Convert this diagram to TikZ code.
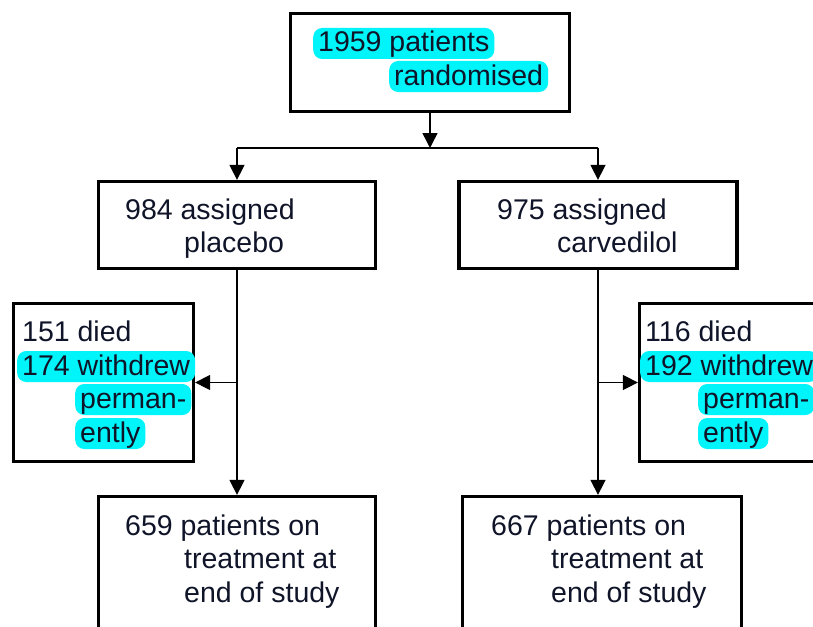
\documentclass[tikz,border=0pt]{standalone}
\usepackage{fontspec}
\setmainfont{Liberation Sans}
\usetikzlibrary{arrows.meta}
\definecolor{hlc}{RGB}{0,245,250}
\definecolor{ink}{RGB}{15,20,40}
\tikzset{
  box/.style={draw=black, line width=3.3pt, inner sep=0pt, fill=white},
  txt/.style={anchor=base west, inner xsep=5pt, inner ysep=2pt, text height=22pt, text depth=5pt,
    font=\fontsize{28.5}{33}\selectfont, text=ink, rounded corners=9pt},
  hl/.style={txt, fill=hlc},
  conn/.style={line width=1.5pt, draw=black},
  arr/.style={conn, -{Triangle[length=15pt,width=15pt]}},
}
\begin{document}
\begin{tikzpicture}[x=1pt,y=-1pt]
\useasboundingbox (0,0) rectangle (813,626);
\clip (0,0) rectangle (813,626);
\fill[white] (0,0) rectangle (813,626);
% boxes
\node[box, minimum width=279pt, minimum height=98pt] (top) at (430,62.5) {};
\node[box, minimum width=277pt, minimum height=87pt] (pl) at (237,225) {};
\node[box, minimum width=278pt, minimum height=87pt] (cv) at (598,225) {};
\node[box, minimum width=180pt, minimum height=158pt] (sideL) at (103.5,382.5) {};
\node[box, minimum width=182pt, minimum height=158pt] (sideR) at (730.5,382.5) {};
\node[box, minimum width=277pt, minimum height=160pt] (endL) at (237,576.5) {};
\node[box, minimum width=279pt, minimum height=160pt] (endR) at (602,576.5) {};
% connectors
\coordinate (split) at (430,148);
\draw[arr] (top.south) -- (split);
\draw[conn] (pl.north |- split) -- (cv.north |- split);
\draw[arr] (pl.north |- split) -- (pl.north);
\draw[arr] (cv.north |- split) -- (cv.north);
\draw[arr] (pl.south) -- (pl.south |- endL.north);
\draw[arr] (cv.south) -- (cv.south |- endR.north);
\draw[arr] (pl.south |- sideL.east) -- (sideL.east);
\draw[arr] (cv.south |- sideR.west) -- (sideR.west);
% texts
\node[hl] (t1) at (313,52) {1959 patients};
\node[hl] (t2) at (389,85) {randomised};
\node[txt] (t3) at (120,219) {984 assigned};
\node[txt] (t4) at (179,252) {placebo};
\node[txt] (t5) at (492,219) {975 assigned};
\node[txt] (t6) at (552,252) {carvedilol};
\node[txt] (t7) at (17,341) {151 died};
\node[hl] (t8) at (17,375) {174 withdrew};
\node[hl] (t9) at (75,408) {perman-};
\node[hl] (t10) at (75,442) {ently};
\node[txt] (t11) at (640,341) {116 died};
\node[hl] (t12) at (640,375) {192 withdrew};
\node[hl] (t13) at (698,408) {perman-};
\node[hl] (t14) at (698,442) {ently};
\node[txt] (t15) at (120,535) {659 patients on};
\node[txt] (t16) at (179,568) {treatment at};
\node[txt] (t17) at (179,602) {end of study};
\node[txt] (t18) at (486,535) {667 patients on};
\node[txt] (t19) at (546,568) {treatment at};
\node[txt] (t20) at (546,602) {end of study};
\end{tikzpicture}
\end{document}
